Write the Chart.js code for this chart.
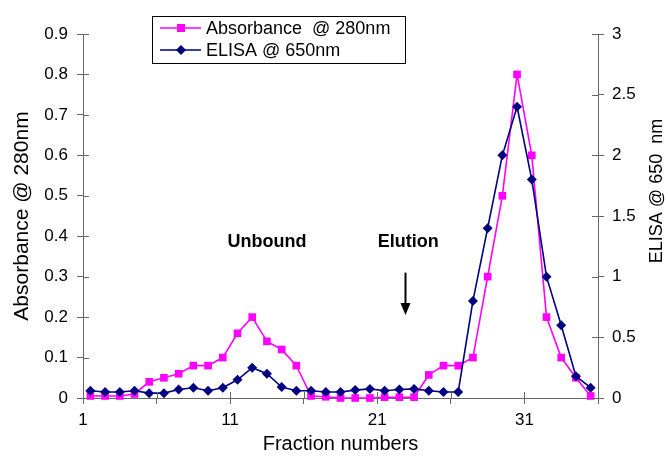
<!DOCTYPE html>
<html><head><meta charset="utf-8">
<script src="https://cdn.jsdelivr.net/npm/chart.js@4/dist/chart.umd.min.js"></script>
<style>html,body{margin:0;padding:0;background:#fff;}#wrap{width:668px;height:457px;}</style>
</head><body><div id="wrap"><canvas id="c" width="668" height="457"></canvas></div>
<script>
const fractions = [1,2,3,4,5,6,7,8,9,10,11,12,13,14,15,16,17,18,19,20,21,22,23,24,25,26,27,28,29,30,31,32,33,34,35];
const absorbance = [0.005,0.005,0.005,0.01,0.04,0.05,0.06,0.08,0.08,0.10,0.16,0.20,0.14,0.12,0.08,0.005,0.003,0.0,0.0,0.0,0.002,0.002,0.002,0.057,0.08,0.08,0.10,0.30,0.50,0.80,0.60,0.20,0.10,0.05,0.005];
const elisa = [0.06,0.05,0.05,0.06,0.04,0.04,0.07,0.085,0.06,0.085,0.15,0.25,0.20,0.09,0.06,0.06,0.05,0.05,0.065,0.075,0.06,0.07,0.075,0.06,0.05,0.05,0.80,1.40,2.00,2.40,1.80,1.00,0.60,0.18,0.085];
const leftTickValues = [0,0.1,0.2,0.3,0.4,0.5,0.6,0.7,0.8,0.9];
const leftTickLabels = ['0','0.1','0.2','0.3','0.4','0.5','0.6','0.7','0.8','0.9'];
const rightTickValues = [0,0.5,1,1.5,2,2.5,3];
const rightTickLabels = ['0','0.5','1','1.5','2','2.5','3'];
const xTickValues = [0.5,5.5,10.5,15.5,20.5,25.5,30.5,35.5];
const xTickLabels = ['1','','11','','21','','31',''];
const seriesNames = ['Absorbance  @ 280nm','ELISA @ 650nm'];
const titles = {x:'Fraction numbers', y:'Absorbance @ 280nm', y2:'ELISA @ 650  nm'};
const notes = [{text:'Unbound', x:13, y:0.385},{text:'Elution', x:22.6, y:0.385}];
const arrow = {x:22.4, from:0.31, to:0.205};

const FONT = 'Liberation Sans, Arial, sans-serif';
const AXIS = '#666';

const extras = {
  id:'extras',
  afterDraw(chart){
    const c = chart.ctx, sx = chart.scales.x, sy = chart.scales.y, sy2 = chart.scales.y2;
    const a = chart.chartArea;
    c.save();
    c.strokeStyle = AXIS; c.lineWidth = 1;
    c.beginPath();
    sy.ticks.forEach(t=>{const p=Math.round(sy.getPixelForValue(t.value))+0.5; c.moveTo(a.left,p); c.lineTo(a.left+6,p);});
    sy2.ticks.forEach(t=>{const p=Math.round(sy2.getPixelForValue(t.value))+0.5; c.moveTo(a.right,p); c.lineTo(a.right-6,p);});
    sx.ticks.forEach(t=>{const p=Math.round(sx.getPixelForValue(t.value))+0.5; c.moveTo(p,a.bottom); c.lineTo(p,a.bottom-6);});
    c.stroke();
    c.fillStyle = '#000';
    c.font = '18px ' + FONT;
    c.textAlign = 'center'; c.textBaseline = 'middle';
    c.translate(657, 191); c.rotate(-Math.PI/2); c.fillText(titles.y2, 0, 0);
    c.setTransform(1,0,0,1,0,0);
    c.font = 'bold 18px ' + FONT;
    notes.forEach(n=>{ c.fillText(n.text, sx.getPixelForValue(n.x), sy.getPixelForValue(n.y)); });
    const ax = Math.round(sx.getPixelForValue(arrow.x)) + 0.5;
    const ay1 = sy.getPixelForValue(arrow.from), ay2 = sy.getPixelForValue(arrow.to);
    c.strokeStyle = '#000'; c.lineWidth = 2;
    c.beginPath(); c.moveTo(ax, ay1); c.lineTo(ax, ay2 - 10); c.stroke();
    c.fillStyle = '#000';
    c.beginPath(); c.moveTo(ax-5, ay2-12); c.lineTo(ax+5, ay2-12); c.lineTo(ax, ay2); c.closePath(); c.fill();
    const lx = 152, ly = 16, lw = 253, lh = 47;
    c.lineWidth = 1; c.strokeStyle = '#000';
    c.strokeRect(lx+0.5, ly+0.5, lw, lh);
    c.font = '18px ' + FONT; c.textAlign = 'left'; c.textBaseline = 'middle';
    chart.data.datasets.forEach((ds,i)=>{
      const yy = ly + 12 + i*22;
      c.strokeStyle = ds.borderColor; c.lineWidth = 1.5;
      c.beginPath(); c.moveTo(160, yy); c.lineTo(201, yy); c.stroke();
      c.fillStyle = ds.backgroundColor;
      if (ds.pointStyle === 'rect') { c.fillRect(177, yy-4, 8, 8); }
      else { c.beginPath(); c.moveTo(181, yy-5); c.lineTo(186, yy); c.lineTo(181, yy+5); c.lineTo(176, yy); c.closePath(); c.fill(); }
      c.fillStyle = '#000';
      c.fillText(seriesNames[i], 206, yy+1);
    });
    c.restore();
  }
};

const tickFont = {family: FONT, size: 17};
new Chart(document.getElementById('c').getContext('2d'), {
  type: 'line',
  data: { datasets: [
    { label: seriesNames[0], data: absorbance.map((v,i)=>({x:fractions[i], y:v})), yAxisID:'y',
      borderColor:'#FF00FF', backgroundColor:'#FF00FF', pointStyle:'rect', pointRadius:5.4, pointBorderWidth:0,
      borderWidth:1.6, tension:0, clip:false, order:1 },
    { label: seriesNames[1], data: elisa.map((v,i)=>({x:fractions[i], y:v})), yAxisID:'y2',
      borderColor:'#000080', backgroundColor:'#000080', pointStyle:'rectRot', pointRadius:5, pointBorderWidth:0,
      borderWidth:1.6, tension:0, clip:false, order:0 }
  ]},
  options: {
    responsive:false, animation:false, devicePixelRatio:1,
    layout:{padding:{top:34,left:0,right:0,bottom:0}},
    plugins:{legend:{display:false}, tooltip:{enabled:false}},
    scales:{
      x:{ type:'linear', min:0.5, max:35.5,
        afterBuildTicks: s=>{ s.ticks = xTickValues.map(v=>({value:v})); },
        afterFit: s=>{ s.height = 59; },
        ticks:{ callback:(v,i)=>xTickLabels[i], autoSkip:false, maxRotation:0, padding:6, color:'#000', font:tickFont },
        grid:{ drawOnChartArea:false, drawTicks:true, tickLength:6, color:AXIS },
        border:{ color:AXIS, width:1 },
        title:{ display:true, text:titles.x, color:'#000', font:{family:FONT, size:20}, padding:{top:0,bottom:1} } },
      y:{ type:'linear', position:'left', min:0, max:0.9,
        afterBuildTicks: s=>{ s.ticks = leftTickValues.map(v=>({value:v})); },
        afterFit: s=>{ s.width = 83; },
        ticks:{ callback:(v,i)=>leftTickLabels[i], autoSkip:false, padding:9, color:'#000', font:tickFont },
        grid:{ drawOnChartArea:false, drawTicks:true, tickLength:6, color:AXIS },
        border:{ color:AXIS, width:1 },
        title:{ display:true, text:titles.y, color:'#000', font:{family:FONT, size:21}, padding:{top:10,bottom:0} } },
      y2:{ type:'linear', position:'right', min:0, max:3,
        afterBuildTicks: s=>{ s.ticks = rightTickValues.map(v=>({value:v})); },
        afterFit: s=>{ s.width = 70; },
        ticks:{ callback:(v,i)=>rightTickLabels[i], autoSkip:false, padding:8, color:'#000', font:tickFont },
        grid:{ drawOnChartArea:false, drawTicks:true, tickLength:6, color:AXIS },
        border:{ color:AXIS, width:1 } }
    }
  },
  plugins:[extras]
});
</script></body></html>
